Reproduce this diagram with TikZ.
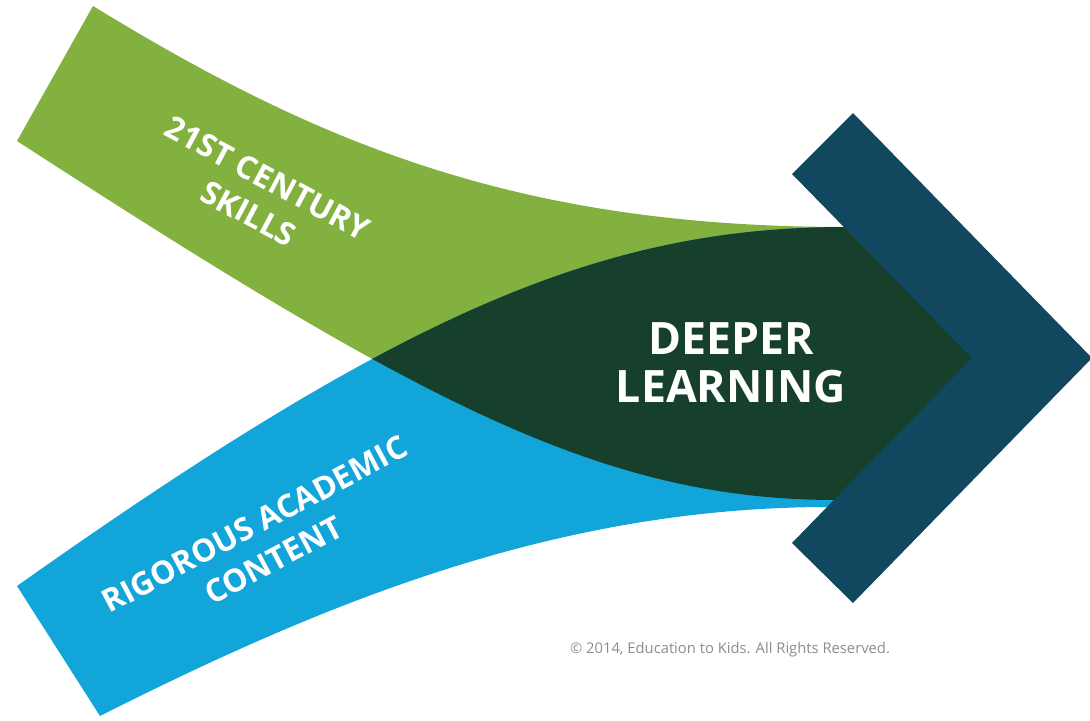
\documentclass[tikz,border=0pt]{standalone}
\usepackage{fontspec}
\setmainfont{Open Sans}
\usepackage{tikz}
\definecolor{skillsgreen}{HTML}{83B13F}
\definecolor{contentblue}{HTML}{11A5DA}
\definecolor{deepergreen}{HTML}{163F2C}
\definecolor{chevronblue}{HTML}{124760}
\newcommand{\skillsband}{(93,6) .. controls (320,145) and (520,227) .. (846,227) -- (976,358) -- (836,500) .. controls (600,500) and (417,400) .. (17,141) -- cycle}
\newcommand{\contentband}{(17,586) .. controls (400,315) and (600,227) .. (846,227) -- (976,358) -- (829,507) .. controls (560,507) and (330,600) .. (100,716) -- cycle}

\begin{document}
\begin{tikzpicture}[x=0.01cm, y=-0.01cm, bandtext/.style={text=white, align=center, inner sep=0}]
\useasboundingbox (0,0) rectangle (1090,721);
\fill[skillsgreen] \skillsband;
\fill[contentblue] \contentband;
\begin{scope}
  \clip \skillsband;
  \fill[deepergreen] \contentband;
\end{scope}
\fill[chevronblue] (853,113) -- (1092,358) -- (853,603) -- (792,543) -- (972,358) -- (792,174) -- cycle;
\node[bandtext, rotate=-28, font=\fontsize{9}{11.5}\selectfont\bfseries] (skills) at (258,196) {21ST CENTURY\\SKILLS};
\node[bandtext, rotate=28, font=\fontsize{9}{11.5}\selectfont\bfseries] (content) at (264,542) {RIGOROUS ACADEMIC\\CONTENT};
\node[bandtext, font=\fontsize{12.7}{13.7}\selectfont\bfseries] (deeper) at (731,363) {DEEPER\\LEARNING};
\node[text=black!45, inner sep=0, font=\fontsize{4.2}{5}\selectfont] (copyright) at (730,650) {© 2014, Education to Kids. All Rights Reserved.};
\end{tikzpicture}
\end{document}
